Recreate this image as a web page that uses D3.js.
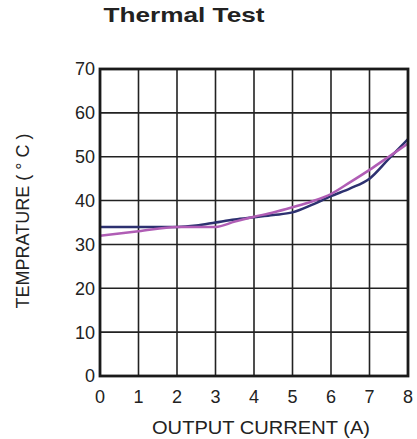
<!DOCTYPE html>
<html><head><meta charset="utf-8">
<script src="https://cdn.jsdelivr.net/npm/d3@7"></script>
<style>body{margin:0;background:#fff}svg{display:block}text{font-family:"Liberation Sans",Arial,sans-serif;fill:#222}</style>
</head><body><div id="chart"></div>
<script>
const xTicks = [0,1,2,3,4,5,6,7,8];
const yTicks = [0,10,20,30,40,50,60,70];
const navyX = [0,0.5,1,1.5,2,2.5,3,3.5,4,4.5,5,5.5,6,6.5,7,7.5,8];
const navyY = [34,34,34,34,34,34.3,35,35.7,36.2,36.7,37.3,39,41,42.8,45,49.5,54];
const pinkX = [0,1,2,3,3.5,4,4.5,5,5.5,6,6.5,7,7.5,8];
const pinkY = [32,33,34,34,35.2,36.3,37.3,38.5,39.8,41.5,44.2,47,50,53];

const W=417,H=439;
const m={l:100,t:69,r:9,b:63};
const svg=d3.select("#chart").append("svg").attr("width",W).attr("height",H);
const x=d3.scaleLinear().domain([0,8]).range([m.l,W-m.r]);
const y=d3.scaleLinear().domain([0,70]).range([H-m.b,m.t]);

// grid
svg.append("g").selectAll("line").data(xTicks).join("line")
  .attr("x1",d=>x(d)).attr("x2",d=>x(d)).attr("y1",y(0)).attr("y2",y(70))
  .attr("stroke","#222").attr("stroke-width",1.6);
svg.append("g").selectAll("line").data(yTicks).join("line")
  .attr("x1",x(0)).attr("x2",x(8)).attr("y1",d=>y(d)).attr("y2",d=>y(d))
  .attr("stroke","#222").attr("stroke-width",1.6);

// lines
const line=d3.line().x(d=>x(d[0])).y(d=>y(d[1])).curve(d3.curveMonotoneX);
svg.append("path").datum(navyX.map((v,i)=>[v,navyY[i]])).attr("d",line)
  .attr("fill","none").attr("stroke","#2d3170").attr("stroke-width",2.5);
svg.append("path").datum(pinkX.map((v,i)=>[v,pinkY[i]])).attr("d",line)
  .attr("fill","none").attr("stroke","#b05db5").attr("stroke-width",2.5);

// frame
svg.append("rect").attr("x",x(0)).attr("y",y(70)).attr("width",x(8)-x(0)).attr("height",y(0)-y(70))
  .attr("fill","none").attr("stroke","#1a1a1a").attr("stroke-width",2.8);

// axes labels
svg.append("g").selectAll("text").data(yTicks).join("text")
  .attr("x",x(0)-5).attr("y",d=>y(d)).attr("dy","0.36em").attr("text-anchor","end")
  .attr("font-size",18).text(d=>d);
svg.append("g").selectAll("text").data(xTicks).join("text")
  .attr("x",d=>x(d)).attr("y",403).attr("text-anchor","middle")
  .attr("font-size",18).text(d=>d);

svg.append("text").attr("x",261).attr("y",434).attr("text-anchor","middle")
  .attr("font-size",18).attr("textLength",218).attr("lengthAdjust","spacingAndGlyphs")
  .text("OUTPUT CURRENT (A)");
svg.append("text").attr("transform","translate(29,221) rotate(-90)").attr("text-anchor","middle")
  .attr("font-size",18).text("TEMPRATURE ( ° C )");
svg.append("text").attr("x",184).attr("y",22).attr("text-anchor","middle")
  .attr("font-size",21).attr("font-weight","bold").attr("textLength",161).attr("lengthAdjust","spacingAndGlyphs")
  .text("Thermal Test");
</script></body></html>
